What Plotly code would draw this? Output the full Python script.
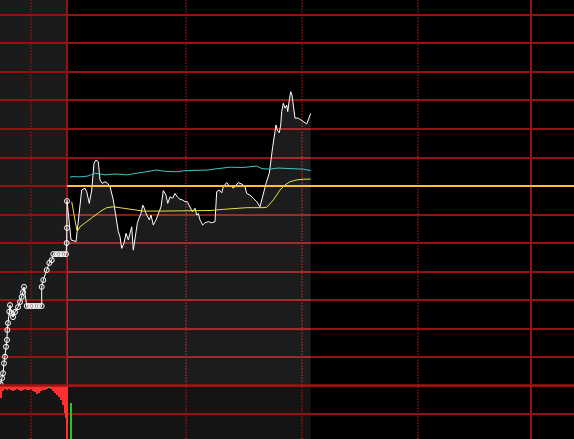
import plotly.graph_objects as go

# ---------------- data (x: minutes from market open, y: % change vs previous close) -------------
# call-auction (pre-market) matched price
auction_min = [-34.40, -33.62, -33.10, -32.59, -32.07, -31.55, -31.03, -30.88, -30.52, -29.84,
               -29.48, -28.71, -27.93, -26.90, -25.34, -24.31, -23.43, -22.76, -22.24, -20.84,
               -19.66, -18.36, -17.07, -15.78, -14.48, -13.09, -13.09, -12.26, -10.50, -9.16,
               -7.91, -7.09, -5.69, -4.40, -3.10, -1.81, -0.52, -0.16, 0.0, 0.0]
auction_pct = [-6.95, -6.74, -6.57, -6.22, -5.99, -5.64, -5.40, -5.05, -4.81, -4.41,
               -4.18, -4.46, -4.60, -4.42, -4.25, -4.07, -3.89, -3.72, -3.54, -4.21,
               -4.21, -4.21, -4.21, -4.21, -4.21, -4.21, -3.54, -3.30, -2.95, -2.70,
               -2.60, -2.39, -2.39, -2.39, -2.39, -2.39, -2.39, -2.00, -1.47, -0.53]

# intraday price
price_min = [0.0, 2.07, 4.66, 5.84, 7.60, 9.31, 10.19, 11.53, 12.78, 13.97, 15.00, 16.19, 17.07,
             18.26, 19.66, 21.05, 22.24, 23.95, 25.34, 26.53, 27.41, 28.29, 29.48, 30.52, 31.71,
             32.59, 33.47, 34.29, 35.17, 36.36, 37.24, 38.28, 39.16, 39.98, 40.86, 41.74, 42.57,
             43.45, 44.64, 46.03, 47.22, 48.62, 49.81, 51.21, 52.09, 53.28, 54.67, 55.86, 57.05,
             58.45, 59.84, 61.03, 62.22, 63.62, 64.81, 66.21, 67.09, 67.91, 68.79, 70.19, 71.38,
             73.09, 74.84, 76.55, 77.43, 78.78, 80.02, 80.84, 82.60, 83.95, 85.19, 86.02, 87.41,
             88.60, 90.36, 92.07, 92.95, 94.66, 96.36, 98.12, 99.83, 101.22, 102.93, 104.64,
             105.52, 106.40, 107.59, 108.10, 108.78, 109.81, 110.53, 111.05, 111.88, 112.76,
             113.64, 114.16, 114.98, 115.71, 116.38, 117.05, 117.93, 119.64, 120.52, 121.91,
             123.10, 123.98, 124.81, 126.05]
price_pct = [-0.49, -1.89, -1.95, -1.19, -0.14, -0.08, -0.20, -0.61, -0.14, 0.80, 0.91, 0.85, 0.21,
             0.09, 0.15, 0.09, -0.02, -0.49, -1.02, -1.60, -1.78, -2.19, -2.01, -1.66, -1.89,
             -1.66, -1.43, -2.25, -1.84, -1.31, -1.13, -0.96, -0.67, -0.78, -0.96, -1.08, -1.19,
             -1.02, -1.37, -1.19, -0.96, -0.73, -0.16, -0.32, -0.61, -0.38, -0.43, -0.26, -0.38,
             -0.47, -0.49, -0.55, -0.55, -0.73, -0.90, -0.78, -1.02, -0.96, -1.19, -1.37, -1.29,
             -1.25, -1.29, -1.25, -0.20, -0.14, -0.24, -0.02, 0.12, 0.00, 0.00, -0.08, 0.04,
             0.12, 0.07, -0.02, -0.26, -0.32, -0.43, -0.55, -0.73, -0.32, 0.09, 0.45,
             0.97, 1.38, 1.91, 2.14, 1.96, 1.87, 2.14, 2.61, 2.90, 2.73,
             2.84, 2.61, 3.02, 3.31, 3.19, 2.78, 2.38, 2.38, 2.34, 2.26,
             2.20, 2.18, 2.32, 2.55]

# benchmark index (cyan)
index_min = [1.55, 2.07, 6.72, 10.86, 14.48, 19.66, 24.83, 30.88, 35.17, 41.22, 46.40, 51.21,
             56.74, 61.55, 67.09, 72.26, 78.10, 84.31, 91.03, 98.12, 100.86, 105.00, 109.14,
             113.64, 117.93, 122.23, 126.05]
index_pct = [0.28, 0.33, 0.32, 0.35, 0.45, 0.39, 0.42, 0.39, 0.44, 0.50, 0.56, 0.51,
             0.50, 0.54, 0.56, 0.56, 0.61, 0.66, 0.65, 0.70, 0.61, 0.59, 0.63,
             0.62, 0.60, 0.59, 0.54]

# average price (yellow)
avg_min = [2.43, 3.62, 5.02, 5.84, 6.72, 10.19, 13.60, 17.07, 20.54, 23.95, 29.12, 34.29, 39.47,
           48.10, 56.74, 67.09, 73.97, 80.84, 92.95, 100.86, 103.29, 106.71, 110.17, 112.76,
           115.35, 118.45, 122.23, 126.05]
avg_pct = [-0.55, -1.02, -1.54, -1.54, -1.43, -1.25, -1.08, -0.90, -0.76, -0.73, -0.78, -0.84, -0.88,
           -0.88, -0.87, -0.87, -0.86, -0.82, -0.76, -0.76, -0.75, -0.49, -0.14, 0.04,
           0.15, 0.21, 0.24, 0.24]

# call-auction unmatched volume (lots)
auction_vol_min = [-34.14, -33.10, -32.07, -31.03, -30.00, -28.97, -27.93, -26.90, -25.86, -24.83,
                   -23.79, -22.76, -21.72, -20.69, -19.66, -18.62, -17.59, -16.55, -15.52, -14.48,
                   -13.45, -12.41, -11.38, -10.34, -9.31, -8.28, -7.24, -6.21, -5.17, -4.14,
                   -3.10, -2.07, -1.03, -0.26]
auction_vol = [1800, 750, 450, 600, 450, 600, 750, 600, 450, 600,
               750, 600, 450, 600, 600, 450, 750, 900, 1200, 1050,
               750, 600, 600, 450, 300, 450, 750, 1050, 1350, 1650,
               2100, 2850, 4050, 4800]
auction_vol_side = ["sell"] * 24 + ["buy"] + ["sell"] * 9

# intraday volume (lots)
trade_vol_min = [-0.1, 2.2]
trade_vol = [6600, 5400]
trade_vol_side = ["sell", "buy"]

# ---------------- layout constants -------------
X_MIN, X_MAX = -34.66, 262.24
Y_MIN, Y_MAX = -8.877, 6.526
PANEL_FLOOR = -7            # separator between price and volume panels
LOTS_PER_PX = 150
H_PX, SEP_PX = 439, 385.5
SOLID_V = [0, 240]
DOTTED_V = [-18.62, 61.55, 121.55, 181.55]

GRID = "#941212"
RED = "#ff3030"
GREEN = "#20c820"

fig = go.Figure()

# fill baseline
fig.add_trace(go.Scatter(x=price_min, y=[PANEL_FLOOR] * len(price_min), mode="lines",
                         line=dict(width=0), hoverinfo="skip", showlegend=False))
# intraday price with gray area
fig.add_trace(go.Scatter(x=price_min, y=price_pct, mode="lines", fill="tonexty",
                         fillcolor="rgba(255,255,255,0.11)",
                         line=dict(color="#ffffff", width=1), showlegend=False))
fig.add_trace(go.Scatter(x=index_min, y=index_pct, mode="lines",
                         line=dict(color="#3ec4c4", width=1), showlegend=False))
fig.add_trace(go.Scatter(x=avg_min, y=avg_pct, mode="lines",
                         line=dict(color="#e8e040", width=1), showlegend=False))
fig.add_trace(go.Scatter(x=auction_min, y=auction_pct, mode="lines+markers",
                         line=dict(color="#ffffff", width=1),
                         marker=dict(symbol="circle-open", size=5, color="#ffffff",
                                     line=dict(width=1, color="#ffffff")),
                         showlegend=False))

# intraday volume (from bottom)
fig.add_trace(go.Bar(x=trade_vol_min, y=trade_vol, yaxis="y2", width=0.7,
                     marker=dict(color=[GREEN if s == "buy" else RED for s in trade_vol_side],
                                 line=dict(width=0)), showlegend=False))
# auction unmatched volume (hanging from separator)
fig.add_trace(go.Bar(x=auction_vol_min, y=auction_vol, yaxis="y3", width=1.03,
                     marker=dict(color=[GREEN if s == "buy" else RED for s in auction_vol_side],
                                 line=dict(width=0)), showlegend=False))

shapes = []
# pre-market gray background
shapes.append(dict(type="rect", xref="x", yref="y", x0=X_MIN, x1=0, y0=PANEL_FLOOR, y1=Y_MAX,
                   fillcolor="#1b1b1b", line=dict(width=0), layer="below"))
shapes.append(dict(type="rect", xref="x", yref="y", x0=X_MIN, x1=0, y0=Y_MIN, y1=PANEL_FLOOR,
                   fillcolor="#151515", line=dict(width=0), layer="below"))
# intraday volume panel shading up to last data
shapes.append(dict(type="rect", xref="x", yref="y", x0=0, x1=price_min[-1], y0=Y_MIN, y1=PANEL_FLOOR,
                   fillcolor="#141414", line=dict(width=0), layer="below"))
for xv in SOLID_V:
    shapes.append(dict(type="line", xref="x", yref="y", x0=xv, x1=xv, y0=Y_MIN, y1=Y_MAX,
                       line=dict(color=GRID, width=2), layer="below"))
for xv in DOTTED_V:
    shapes.append(dict(type="line", xref="x", yref="y", x0=xv, x1=xv, y0=Y_MIN, y1=Y_MAX,
                       line=dict(color=GRID, width=1.5, dash="1.5px,1.5px"), layer="below"))
# separator
shapes.append(dict(type="line", xref="x", yref="y", x0=X_MIN, x1=X_MAX, y0=PANEL_FLOOR, y1=PANEL_FLOOR,
                   line=dict(color="#a01414", width=2.5), layer="above"))
# previous close
shapes.append(dict(type="line", xref="x", yref="y", x0=0, x1=X_MAX, y0=0, y1=0,
                   line=dict(color="#ffc030", width=2), layer="above"))

fig.update_layout(
    width=574, height=439,
    margin=dict(l=0, r=0, t=0, b=0, pad=0),
    paper_bgcolor="#000000", plot_bgcolor="#000000",
    showlegend=False, barmode="overlay", bargap=0,
    shapes=shapes,
    xaxis=dict(range=[X_MIN, X_MAX], visible=False, showgrid=False, zeroline=False, fixedrange=True),
    yaxis=dict(range=[Y_MIN, Y_MAX], tick0=0, dtick=1, showgrid=True, gridcolor=GRID, gridwidth=2,
               zeroline=False, showticklabels=False, showline=False, ticks="", fixedrange=True),
    yaxis2=dict(overlaying="y", range=[0, H_PX * LOTS_PER_PX], visible=False, showgrid=False,
                zeroline=False),
    yaxis3=dict(overlaying="y", range=[(H_PX - SEP_PX) * LOTS_PER_PX, -SEP_PX * LOTS_PER_PX],
                visible=False, showgrid=False, zeroline=False),
)

fig.write_html(
    "out.html",
    config={"displayModeBar": False},
    post_script="document.body.style.margin='0';document.body.style.overflow='hidden';",
)
